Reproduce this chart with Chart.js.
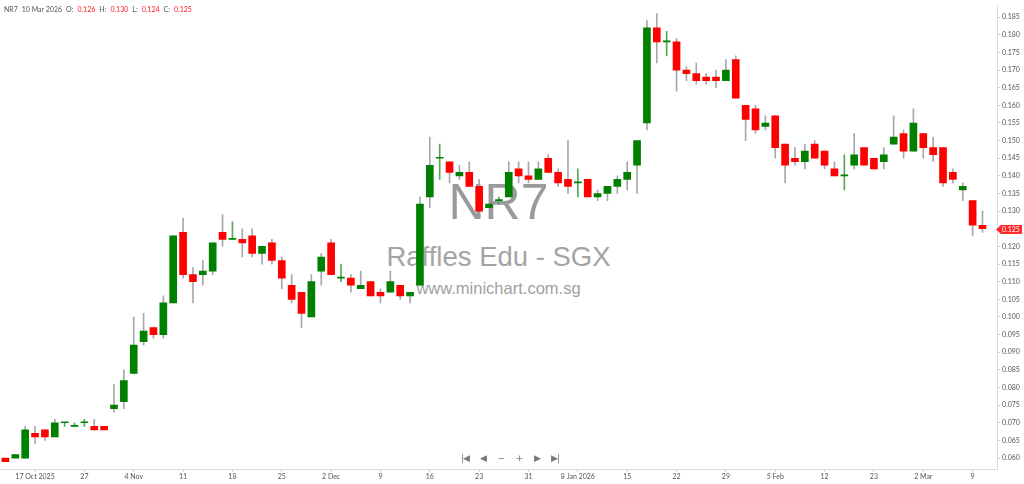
<!DOCTYPE html>
<html>
<head>
<meta charset="utf-8">
<script src="https://cdn.jsdelivr.net/npm/chart.js@4.4.1/dist/chart.umd.min.js"></script>
<style>
    html, body { margin: 0; padding: 0; background: #fff; }
    #wrap { position: relative; width: 1024px; height: 484px; overflow: hidden; font-family: Lato, sans-serif; }
    #chart { position: absolute; left: 0; top: 0; z-index: 1; }
    .wm { position: absolute; left: 0; width: 997px; text-align: center; font-family: "Liberation Sans", Arial, sans-serif; line-height: 1; white-space: nowrap; z-index: 0; }
    #wm-sym { top: 177px; font-size: 50px; color: #9a9a9a; }
    #wm-name { top: 243px; font-size: 27.5px; color: #a4a4a4; }
    #wm-site { top: 280px; font-size: 16.5px; color: #a0a0a0; }
    #header { position: absolute; left: 4px; top: 5px; font-size: 7px; color: #555; z-index: 2; white-space: nowrap; }
    #header span { margin-right: 4px; }
    #header .val { color: #ff1a1a; }
    .nav { position: absolute; top: 453px; width: 16px; text-align: center; font-size: 9px; color: #777; z-index: 2; font-family: "DejaVu Sans", sans-serif; letter-spacing: -1px; }
</style>
</head>
<body>
<div id="wrap">
    <div class="wm" id="wm-sym"></div>
    <div class="wm" id="wm-name"></div>
    <div class="wm" id="wm-site"></div>
    <canvas id="chart" width="1024" height="484"></canvas>
    <div id="header"></div>
</div>
<script>
const symbol = 'NR7';
const company = 'Raffles Edu - SGX';
const site = 'www.minichart.com.sg';

const dates = [
    '14 Oct 2025', '15 Oct 2025', '16 Oct 2025', '17 Oct 2025', '21 Oct 2025', '22 Oct 2025', '23 Oct 2025', '24 Oct 2025',
    '27 Oct 2025', '28 Oct 2025', '29 Oct 2025', '30 Oct 2025', '31 Oct 2025',
    '4 Nov 2025', '5 Nov 2025', '6 Nov 2025', '7 Nov 2025', '10 Nov 2025', '11 Nov 2025', '12 Nov 2025', '13 Nov 2025',
    '14 Nov 2025', '17 Nov 2025', '18 Nov 2025', '19 Nov 2025', '20 Nov 2025', '21 Nov 2025', '24 Nov 2025', '25 Nov 2025',
    '26 Nov 2025', '27 Nov 2025', '28 Nov 2025',
    '1 Dec 2025', '2 Dec 2025', '3 Dec 2025', '4 Dec 2025', '5 Dec 2025', '8 Dec 2025', '9 Dec 2025', '10 Dec 2025',
    '11 Dec 2025', '12 Dec 2025', '15 Dec 2025', '16 Dec 2025', '17 Dec 2025', '18 Dec 2025', '19 Dec 2025', '22 Dec 2025',
    '23 Dec 2025', '24 Dec 2025', '26 Dec 2025', '29 Dec 2025', '30 Dec 2025', '31 Dec 2025',
    '2 Jan 2026', '5 Jan 2026', '6 Jan 2026', '7 Jan 2026', '8 Jan 2026', '9 Jan 2026', '12 Jan 2026', '13 Jan 2026',
    '14 Jan 2026', '15 Jan 2026', '16 Jan 2026', '19 Jan 2026', '20 Jan 2026', '21 Jan 2026', '22 Jan 2026', '23 Jan 2026',
    '26 Jan 2026', '27 Jan 2026', '28 Jan 2026', '29 Jan 2026', '30 Jan 2026',
    '2 Feb 2026', '3 Feb 2026', '4 Feb 2026', '5 Feb 2026', '6 Feb 2026', '9 Feb 2026', '10 Feb 2026', '11 Feb 2026',
    '12 Feb 2026', '13 Feb 2026', '16 Feb 2026', '19 Feb 2026', '20 Feb 2026', '23 Feb 2026', '24 Feb 2026', '25 Feb 2026',
    '26 Feb 2026', '27 Feb 2026',
    '2 Mar 2026', '3 Mar 2026', '4 Mar 2026', '5 Mar 2026', '6 Mar 2026', '9 Mar 2026', '10 Mar 2026',
];

const opens = [
    0.060, 0.060, 0.060, 0.067, 0.068, 0.066, 0.070, 0.069, 0.070, 0.069,
    0.069, 0.074, 0.076, 0.084, 0.093, 0.097, 0.095, 0.104, 0.124, 0.112,
    0.112, 0.113, 0.124, 0.122, 0.122, 0.123, 0.118, 0.121, 0.116, 0.109,
    0.107, 0.100, 0.113, 0.121, 0.111, 0.111, 0.108, 0.110, 0.107, 0.107,
    0.109, 0.106, 0.109, 0.134, 0.145, 0.144, 0.140, 0.141, 0.137, 0.131,
    0.133, 0.134, 0.142, 0.140, 0.139, 0.145, 0.141, 0.139, 0.138, 0.139,
    0.134, 0.135, 0.137, 0.139, 0.143, 0.155, 0.182, 0.178, 0.178, 0.170,
    0.169, 0.168, 0.168, 0.167, 0.173, 0.160, 0.159, 0.154, 0.157, 0.149,
    0.145, 0.144, 0.149, 0.147, 0.142, 0.140, 0.143, 0.148, 0.145, 0.144,
    0.149, 0.152, 0.147, 0.152, 0.148, 0.148, 0.141, 0.136, 0.133, 0.126,
];
const highs = [
    0.060, 0.061, 0.069, 0.069, 0.068, 0.071, 0.070, 0.070, 0.071, 0.071,
    0.069, 0.081, 0.085, 0.100, 0.101, 0.097, 0.106, 0.123, 0.128, 0.114,
    0.116, 0.121, 0.129, 0.127, 0.125, 0.125, 0.120, 0.122, 0.117, 0.112,
    0.107, 0.112, 0.118, 0.122, 0.115, 0.112, 0.113, 0.110, 0.108, 0.113,
    0.109, 0.107, 0.134, 0.151, 0.149, 0.144, 0.143, 0.144, 0.139, 0.132,
    0.134, 0.144, 0.144, 0.144, 0.144, 0.146, 0.142, 0.150, 0.142, 0.139,
    0.136, 0.137, 0.140, 0.144, 0.150, 0.184, 0.186, 0.181, 0.179, 0.171,
    0.172, 0.169, 0.170, 0.173, 0.174, 0.160, 0.160, 0.157, 0.157, 0.149,
    0.148, 0.149, 0.150, 0.147, 0.144, 0.146, 0.152, 0.148, 0.145, 0.148,
    0.157, 0.153, 0.159, 0.152, 0.151, 0.148, 0.142, 0.138, 0.133, 0.130,
];
const lows = [
    0.059, 0.060, 0.060, 0.064, 0.065, 0.066, 0.069, 0.069, 0.069, 0.068,
    0.068, 0.073, 0.074, 0.084, 0.092, 0.094, 0.094, 0.104, 0.111, 0.104,
    0.109, 0.112, 0.120, 0.122, 0.117, 0.117, 0.115, 0.115, 0.108, 0.104,
    0.097, 0.100, 0.109, 0.112, 0.110, 0.107, 0.108, 0.106, 0.104, 0.107,
    0.105, 0.104, 0.109, 0.131, 0.139, 0.138, 0.139, 0.137, 0.130, 0.131,
    0.132, 0.134, 0.138, 0.138, 0.139, 0.141, 0.137, 0.135, 0.134, 0.134,
    0.133, 0.133, 0.135, 0.136, 0.135, 0.153, 0.172, 0.174, 0.164, 0.167,
    0.166, 0.166, 0.165, 0.167, 0.162, 0.150, 0.152, 0.153, 0.145, 0.138,
    0.143, 0.142, 0.145, 0.142, 0.140, 0.136, 0.142, 0.143, 0.142, 0.142,
    0.149, 0.145, 0.147, 0.145, 0.144, 0.137, 0.138, 0.133, 0.123, 0.124,
];
const closes = [
    0.059, 0.061, 0.068, 0.066, 0.066, 0.070, 0.070, 0.069, 0.070, 0.068,
    0.068, 0.075, 0.082, 0.092, 0.096, 0.095, 0.104, 0.123, 0.112, 0.110,
    0.113, 0.121, 0.122, 0.122, 0.121, 0.118, 0.120, 0.116, 0.111, 0.105,
    0.101, 0.110, 0.117, 0.112, 0.111, 0.109, 0.109, 0.106, 0.106, 0.110,
    0.106, 0.107, 0.132, 0.143, 0.145, 0.141, 0.141, 0.137, 0.130, 0.132,
    0.133, 0.141, 0.140, 0.139, 0.142, 0.141, 0.138, 0.137, 0.138, 0.134,
    0.135, 0.137, 0.139, 0.141, 0.150, 0.182, 0.178, 0.178, 0.170, 0.169,
    0.167, 0.167, 0.167, 0.170, 0.162, 0.156, 0.153, 0.155, 0.148, 0.143,
    0.144, 0.147, 0.145, 0.143, 0.140, 0.140, 0.146, 0.143, 0.142, 0.146,
    0.151, 0.147, 0.155, 0.148, 0.146, 0.138, 0.139, 0.137, 0.126, 0.125,
];

// dates that carry a label on the time axis, and the text shown for each
const tickDates = [
    '17 Oct 2025', '27 Oct 2025', '4 Nov 2025', '11 Nov 2025', '18 Nov 2025', '25 Nov 2025', '2 Dec 2025',
    '9 Dec 2025', '16 Dec 2025', '23 Dec 2025', '31 Dec 2025', '8 Jan 2026', '15 Jan 2026', '22 Jan 2026',
    '29 Jan 2026', '5 Feb 2026', '12 Feb 2026', '23 Feb 2026', '2 Mar 2026', '9 Mar 2026',
];
const tickLabels = [
    '17 Oct 2025', '27', '4 Nov', '11', '18', '25', '2 Dec', '9', '16', '23', '31',
    '8 Jan 2026', '15', '22', '29', '5 Feb', '12', '23', '2 Mar', '9',
];

const UP = '#008000';
const DOWN = '#ff0000';
const last = closes.length - 1;
const tickIndex = tickDates.map((d) => dates.indexOf(d));

document.getElementById('wm-sym').textContent = symbol;
document.getElementById('wm-name').textContent = company;
document.getElementById('wm-site').textContent = site;

const header = document.getElementById('header');
[
    [symbol, ''], [dates[last], ''],
    ['O:', ''], [opens[last].toFixed(3), 'val'],
    ['H:', ''], [highs[last].toFixed(3), 'val'],
    ['L:', ''], [lows[last].toFixed(3), 'val'],
    ['C:', ''], [closes[last].toFixed(3), 'val'],
].forEach(([text, cls]) => {
    const s = document.createElement('span');
    s.textContent = text;
    if (cls) s.className = cls;
    header.appendChild(s);
});

// zoom / scroll buttons under the plot
const wrap = document.getElementById('wrap');
['|\u25C0', '\u25C0', '\u2212', '+', '\u25B6', '\u25B6|'].forEach((g, i) => {
    const s = document.createElement('div');
    s.className = 'nav';
    s.style.left = (457 + i * 18) + 'px';
    s.textContent = g;
    wrap.appendChild(s);
});

const bodyData = opens.map((o, i) => ({ x: i, y: [Math.min(o, closes[i]), Math.max(o, closes[i])] }));
const wickData = highs.map((h, i) => ({ x: i, y: [lows[i], h] }));
const bodyColors = opens.map((o, i) => (closes[i] >= o ? UP : DOWN));
const wickColors = opens.map((o, i) => (closes[i] === o ? '#5a5' : '#a8a8a8'));

const lastPricePlugin = {
    id: 'lastPrice',
    afterDraw(chart) {
        const { ctx } = chart;
        const yScale = chart.scales.y;
        const y = Math.round(yScale.getPixelForValue(closes[last])) + 0.5;
        const x0 = yScale.left - 1;
        ctx.save();
        ctx.fillStyle = '#ff2a2a';
        ctx.beginPath();
        ctx.moveTo(x0, y);
        ctx.lineTo(x0 + 5, y - 4.5);
        ctx.lineTo(1022, y - 4.5);
        ctx.lineTo(1022, y + 4.5);
        ctx.lineTo(x0 + 5, y + 4.5);
        ctx.closePath();
        ctx.fill();
        ctx.fillStyle = '#fff';
        ctx.font = '7px Lato, sans-serif';
        ctx.textBaseline = 'middle';
        ctx.fillText(closes[last].toFixed(3), x0 + 6, y + 0.5);
        ctx.restore();
    },
};

new Chart(document.getElementById('chart'), {
    type: 'bar',
    data: {
        datasets: [
            {
                label: 'body',
                data: bodyData,
                backgroundColor: bodyColors,
                borderWidth: 0,
                barThickness: 7,
                minBarLength: 1,
                grouped: false,
                order: 0,
            },
            {
                label: 'wick',
                data: wickData,
                backgroundColor: wickColors,
                borderWidth: 0,
                barThickness: 1,
                grouped: false,
                order: 1,
            },
        ],
    },
    options: {
        responsive: false,
        animation: false,
        layout: { padding: 0 },
        plugins: { legend: { display: false }, tooltip: { enabled: false } },
        scales: {
            x: {
                type: 'linear',
                offset: false,
                min: -0.55,
                max: 100.47,
                afterBuildTicks: (scale) => {
                    scale.ticks = tickIndex.map((v) => ({ value: v }));
                },
                afterFit: (scale) => {
                    scale.height = 15;
                },
                ticks: {
                    autoSkip: false,
                    maxRotation: 0,
                    padding: 1,
                    color: '#555',
                    font: { family: 'Lato', size: 7 },
                    callback: (value, index) => tickLabels[index],
                },
                grid: { drawOnChartArea: false, offset: false, tickLength: 3, color: '#cfcfcf' },
                border: { color: '#dcdcdc' },
            },
            y: {
                position: 'right',
                min: 0.0569,
                max: 0.1881,
                afterFit: (scale) => {
                    scale.width = 27;
                },
                ticks: {
                    stepSize: 0.005,
                    includeBounds: false,
                    padding: 2,
                    color: '#555',
                    font: { family: 'Lato', size: 7 },
                    callback: (value) => value.toFixed(3),
                },
                grid: { drawOnChartArea: false, tickLength: 3, color: '#cfcfcf' },
                border: { color: '#dcdcdc' },
            },
        },
    },
    plugins: [lastPricePlugin],
});
</script>
</body>
</html>
